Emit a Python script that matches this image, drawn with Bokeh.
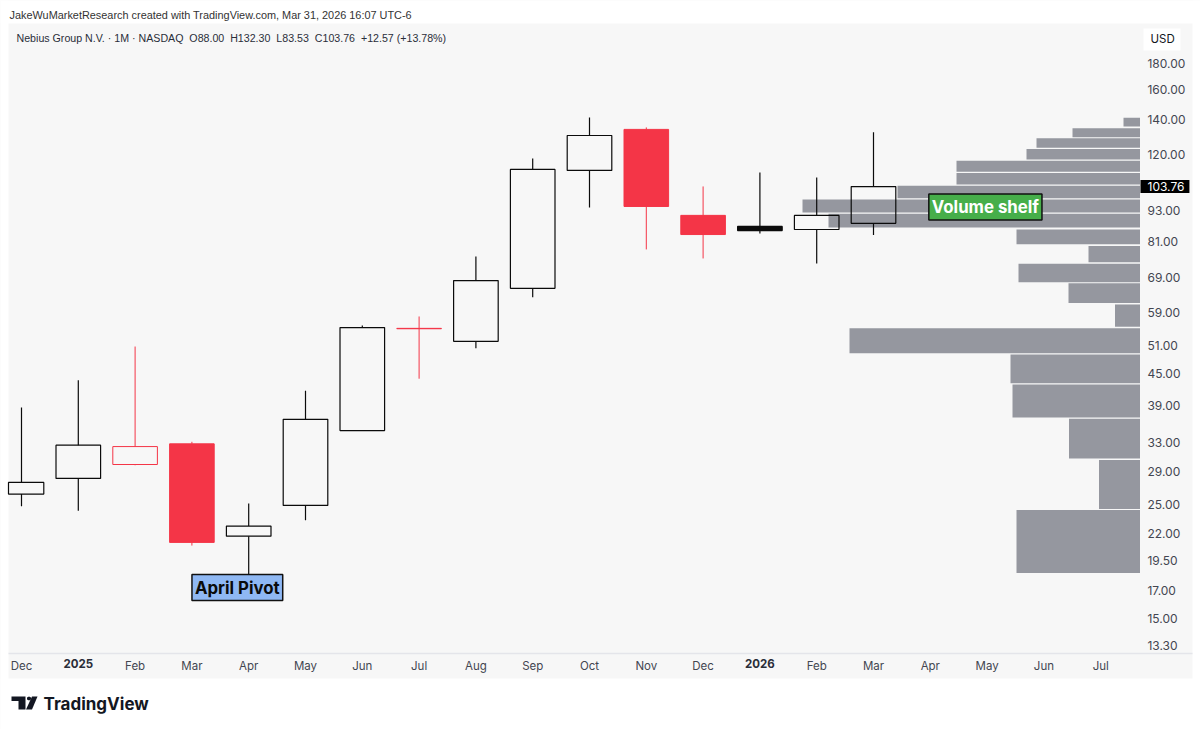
from bokeh.plotting import figure
from bokeh.models import (Range1d, LinearAxis, LogAxis, FixedTicker, NumeralTickFormatter, Label,
                          BoxAnnotation, PolyAnnotation, ColumnDataSource)
from bokeh.embed import file_html
from bokeh.resources import INLINE

# ---------- data ----------
month_labels = ["Dec", "2025", "Feb", "Mar", "Apr", "May", "Jun", "Jul", "Aug", "Sep", "Oct", "Nov",
                "Dec", "2026", "Feb", "Mar", "Apr", "May", "Jun", "Jul"]
opens  = [26.2, 28.1, 29.9, 32.8, 21.7, 24.9, 34.8, 54.9, 51.9, 65.8, 111.5, 134.0, 91.2, 85.2, 85.6, 88.00]
highs  = [38.6, 43.6, 50.7, 33.1, 25.1, 41.6, 55.7, 58.0, 75.9, 117.6, 141.4, 135.2, 103.8, 110.5, 108.1, 132.30]
lows   = [24.8, 24.3, 29.8, 20.8, 18.3, 23.3, 34.8, 43.9, 50.3, 63.2, 94.5, 78.3, 75.2, 84.1, 73.5, 83.53]
closes = [27.6, 32.6, 32.4, 21.1, 22.7, 36.6, 55.2, 55.0, 68.1, 112.0, 130.4, 94.9, 83.7, 86.8, 91.19, 103.76]

vp_top    = [141.2, 134.7, 128.8, 122.7, 116.5, 110.2, 104.1, 97.9, 91.9, 85.6, 79.5, 73.4, 67.3, 61.2, 55.0, 48.9, 42.8, 36.7, 30.5, 24.4]
vp_bottom = [135.8, 129.4, 123.4, 117.1, 110.8, 104.7, 98.5, 92.4, 86.4, 80.1, 73.9, 67.6, 61.6, 55.4, 49.2, 43.0, 36.9, 30.7, 24.5, 18.4]
vp_volume = [16.5, 67.5, 103.5, 113.5, 183.5, 183.5, 242.5, 337.5, 311.5, 123.5, 51.5, 121.5, 71.5, 25.0, 290.5, 129.5, 127.5, 71.0, 41.0, 123.5]

price_ticks = [180, 160, 140, 120, 93, 81, 69, 59, 51, 45, 39, 33, 29, 25, 22, 19.5, 17, 15, 13.3]
last_price = 103.76

# ---------- style ----------
BG = "#f7f7f7"
RED = "#f43547"
BLACK = "#0b0b0b"
GREY = "#95979f"
TXT = "#434651"
FONT = "Inter"
HEAD_FONT = "Liberation Sans"

W, H = 1200, 729
# the frame fills the whole canvas; the axes sit at fixed locations inside it
AXIS_X = 19.70      # right-hand edge of the candle pane, in month index
AXIS_Y = 12.83      # bottom edge of the candle pane, in price
PANE_LEFT = -0.229  # left-hand edge of the candle pane, in month index
BODY = 0.785
p = figure(width=W, height=H, output_backend="svg", toolbar_location=None,
           x_range=Range1d(-0.3697, 20.757), y_range=Range1d(9.132, 238.6),
           y_axis_type="log", x_axis_location=None, y_axis_location=None,
           background_fill_color=BG, border_fill_color="white",
           min_border=0, min_border_left=0, min_border_right=0, min_border_top=0, min_border_bottom=0)
p.grid.visible = False
p.outline_line_color = None

def box(l, r, t, b, color="white", level="underlay"):
    p.add_layout(BoxAnnotation(left=l, right=r, top=t, bottom=b, left_units="canvas", right_units="canvas",
                               top_units="canvas", bottom_units="canvas", fill_color=color, fill_alpha=1,
                               line_color=None, level=level))

for l, r, t, b in ((0, W, 0, 23), (0, W, 678, H), (1192, W, 0, H), (0, 8, 0, H)):
    box(l, r, t, b)

# price axis
ya = LogAxis(fixed_location=AXIS_X, ticker=FixedTicker(ticks=price_ticks),
             formatter=NumeralTickFormatter(format="0.00"), axis_line_color=None,
             major_tick_line_color=None, minor_tick_line_color=None, major_tick_out=0,
             major_label_standoff=7, major_label_text_color=TXT, major_label_text_font=FONT,
             major_label_text_font_size="12px")
p.add_layout(ya, "right")

# time axes
idx_reg = [i for i, m in enumerate(month_labels) if not m.isdigit()]
idx_year = [i for i, m in enumerate(month_labels) if m.isdigit()]
common = dict(fixed_location=AXIS_Y, major_tick_line_color=None, minor_tick_line_color=None, major_tick_out=0,
              major_label_standoff=5, major_label_text_font=FONT, major_label_text_font_size="11.5px")
xa = LinearAxis(ticker=FixedTicker(ticks=idx_reg), major_label_overrides={i: month_labels[i] for i in idx_reg},
                axis_line_color="#e4e5ea", axis_line_width=1.5, bounds=(PANE_LEFT, 20.615),
                major_label_text_color=TXT, **common)
p.add_layout(xa, "below")
xb = LinearAxis(ticker=FixedTicker(ticks=idx_year), major_label_overrides={i: month_labels[i] for i in idx_year},
                axis_line_color=None, major_label_text_color="#2a2e39", major_label_text_font_style="bold", **common)
p.add_layout(xb, "below")

# volume profile on its own reversed horizontal scale
p.extra_x_ranges["vol"] = Range1d(1139.5, -60.5)
vp = ColumnDataSource(dict(top=vp_top, bottom=vp_bottom, left=[0] * len(vp_volume), right=vp_volume))
p.quad(top="top", bottom="bottom", left="left", right="right", source=vp, x_range_name="vol",
       fill_color=GREY, line_color=None)

# candles
n = len(opens)
xs = list(range(n))
prev = [opens[0]] + closes[:-1]
colors = [RED if closes[i] < prev[i] else BLACK for i in xs]
widths = [1.0 if c == RED else 1.2 for c in colors]
upper = [max(opens[i], closes[i]) for i in xs]
lower = [min(opens[i], closes[i]) for i in xs]
hollow = [closes[i] > opens[i] and (upper[i] - lower[i]) / lower[i] > 0.025 for i in xs]
fills = [None if hollow[i] else colors[i] for i in xs]

wicks = ColumnDataSource(dict(x=xs, hi=highs, lo=lows, up=upper, dn=lower, c=colors, w=widths))
p.segment(x0="x", x1="x", y0="hi", y1="up", source=wicks, line_color="c", line_width="w")
p.segment(x0="x", x1="x", y0="dn", y1="lo", source=wicks, line_color="c", line_width="w")
bodies = ColumnDataSource(dict(l=[max(i - BODY / 2, PANE_LEFT) for i in xs], r=[i + BODY / 2 for i in xs],
                               top=upper, bottom=lower, c=colors, f=fills, w=widths))
p.quad(left="l", right="r", top="top", bottom="bottom", source=bodies, line_color="c", line_width="w", fill_color="f")

def canvas_label(text, px, py, size, color=TXT, style="normal", font=FONT, **kw):
    p.add_layout(Label(x=px, y=py, x_units="canvas", y_units="canvas", text=text, text_font=font,
                       text_font_size=size, text_color=color, text_font_style=style, text_baseline="middle", **kw))

# USD button and last-price tag
box(1143, 1180, 28, 50, level="annotation")
canvas_label("USD", 1150, 38, "11.5px", color="#131722")
p.add_layout(Label(x=1140, y=last_price, x_units="canvas", y_units="data", text=f"{last_price:.2f}",
                   text_font=FONT, text_font_size="12px", text_color="white", text_baseline="middle",
                   background_fill_color="black", padding=dict(left=7, right=5, top=2, bottom=2)))

# header
canvas_label("JakeWuMarketResearch created with TradingView.com, Mar 31, 2026 16:07 UTC-6", 9, 14, "10.9px",
             color="#333333", font=HEAD_FONT)
canvas_label("Nebius Group N.V. · 1M · NASDAQ\u00a0\u00a0O88.00\u00a0\u00a0H132.30\u00a0\u00a0L83.53\u00a0\u00a0C103.76\u00a0\u00a0+12.57 (+13.78%)",
             16, 37, "10.65px", color="#2a2e39", font=HEAD_FONT)

# annotations
p.add_layout(Label(x=3.8, y=17.24, text="April Pivot", text_font=FONT, text_font_size="16.8px", text_font_style="bold",
                   text_color="#0b0b0b", text_align="center", text_baseline="middle", background_fill_color="#8fb8f4",
                   border_line_color="#111111", border_line_width=1.5, padding=3))
p.add_layout(Label(x=16.97, y=94.7, text="Volume shelf", text_font=FONT, text_font_size="16.8px", text_font_style="bold",
                   text_color="white", text_align="center", text_baseline="middle", background_fill_color="#46ae4a",
                   border_line_color="#111111", border_line_width=1.5, padding=3))

# TradingView logo
def poly(xs_, ys_):
    p.add_layout(PolyAnnotation(xs=xs_, ys=ys_, xs_units="canvas", ys_units="canvas",
                                fill_color="#131722", fill_alpha=1, line_color=None))
poly([11, 25, 25, 18, 18, 11], [696, 696, 709, 709, 700.5, 700.5])
poly([26.5, 28.5, 30.5, 30.5, 28.5, 26.5], [697, 696, 697, 699, 700, 699])
poly([31.5, 37, 31.5, 25.5], [696, 696, 709, 709])
canvas_label("TradingView", 43, 703, "17px", color="#131722", style="bold")

open("out.html", "w").write(file_html(p, INLINE))
